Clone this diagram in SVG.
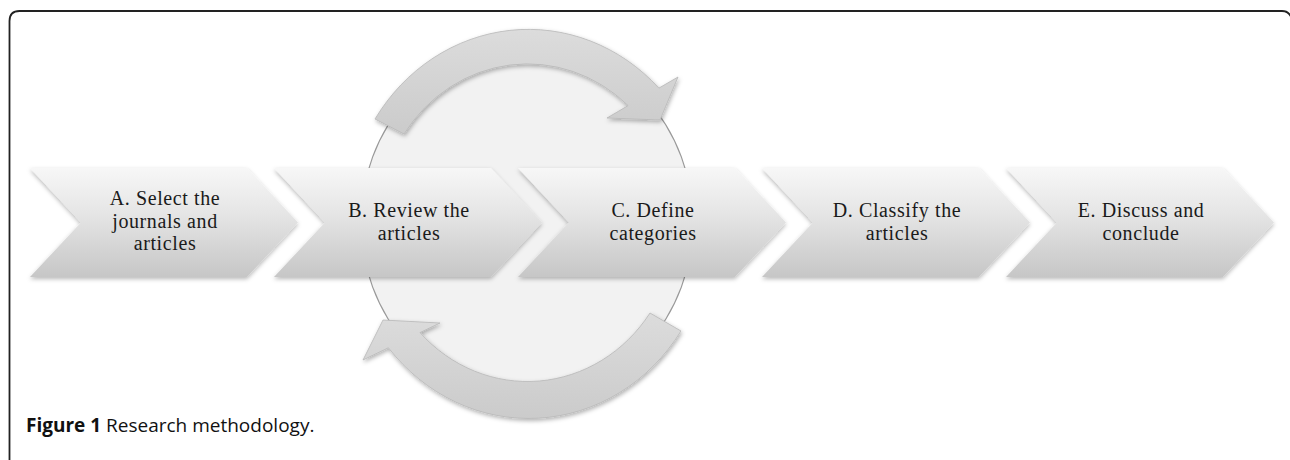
<svg xmlns="http://www.w3.org/2000/svg" width="1290" height="460" viewBox="0 0 1290 460">
  <defs>
    <linearGradient id="chev" x1="0" y1="0" x2="0" y2="1">
      <stop offset="0" stop-color="#f7f7f7"/>
      <stop offset="0.45" stop-color="#e4e4e4"/>
      <stop offset="1" stop-color="#c6c6c6"/>
    </linearGradient>
    <linearGradient id="arcg" x1="0" y1="0" x2="0" y2="1">
      <stop offset="0" stop-color="#dcdcdc"/>
      <stop offset="1" stop-color="#cbcbcb"/>
    </linearGradient>
    <filter id="sh" x="-10%" y="-10%" width="120%" height="130%">
      <feDropShadow dx="0" dy="2" stdDeviation="2" flood-color="#000" flood-opacity="0.28"/>
    </filter>
    <filter id="sha" x="-10%" y="-10%" width="120%" height="130%">
      <feDropShadow dx="1" dy="2" stdDeviation="2" flood-color="#000" flood-opacity="0.3"/>
    </filter>
  </defs>
  <style>
    .frame { fill: none; stroke: #222; stroke-width: 1.8; }
    .chev { fill: url(#chev); filter: url(#sh); }
    .arc { fill: url(#arcg); stroke: #b8b8b8; stroke-width: 0.8; filter: url(#sha); }
    .ring { fill: #f2f2f2; stroke: #999; stroke-width: 1.2; }
    .lbl { font-family: "Liberation Serif", "Times New Roman", serif; font-size: 20px; letter-spacing: 0.6px; fill: #1a1a1a; text-anchor: middle; }
    .cap { font-family: "Open Sans", "Liberation Sans", sans-serif; font-size: 19px; fill: #111; }
  </style>
  <rect width="1290" height="460" fill="#fff"/>
  <path class="frame" d="M 9.5 460 L 9.5 21 Q 9.5 11 19.5 11 L 1282 11 Q 1290 11 1292 20"/>

  <g id="cycle">
    <ellipse class="ring" cx="527" cy="222" rx="166" ry="177"/>
    <path class="arc" d="M 375 119 A 182 194 0 0 1 658.9 88.1 L 678 77 L 660 120 L 607 118 L 628.1 105.6 A 149 159 0 0 0 404 134 Z"/>
    <path class="arc" d="M 681 331 A 182 194 0 0 1 388.4 347.8 L 363 360 L 383 320 L 440 323 L 420 332.6 A 149 159 0 0 0 650 313 Z"/>
  </g>

  <g id="nodeA">
    <path class="chev" d="M 30 168 L 247 168 L 298 222.5 L 247 277 L 30 277 L 81 222.5 Z"/>
    <text class="lbl" x="165" y="205">A. Select the</text>
    <text class="lbl" x="165" y="227.5">journals and</text>
    <text class="lbl" x="165" y="250">articles</text>
  </g>
  <g id="nodeB">
    <path class="chev" d="M 274 168 L 491 168 L 542 222.5 L 491 277 L 274 277 L 325 222.5 Z"/>
    <text class="lbl" x="409" y="217">B. Review the</text>
    <text class="lbl" x="409" y="239.5">articles</text>
  </g>
  <g id="nodeC">
    <path class="chev" d="M 518 168 L 735 168 L 786 222.5 L 735 277 L 518 277 L 569 222.5 Z"/>
    <text class="lbl" x="653" y="217">C. Define</text>
    <text class="lbl" x="653" y="239.5">categories</text>
  </g>
  <g id="nodeD">
    <path class="chev" d="M 762 168 L 979 168 L 1030 222.5 L 979 277 L 762 277 L 813 222.5 Z"/>
    <text class="lbl" x="897" y="217">D. Classify the</text>
    <text class="lbl" x="897" y="239.5">articles</text>
  </g>
  <g id="nodeE">
    <path class="chev" d="M 1006 168 L 1223 168 L 1274 222.5 L 1223 277 L 1006 277 L 1057 222.5 Z"/>
    <text class="lbl" x="1141" y="217">E. Discuss and</text>
    <text class="lbl" x="1141" y="239.5">conclude</text>
  </g>

  <text class="cap" x="26" y="432"><tspan font-weight="bold">Figure 1</tspan> Research methodology.</text>
</svg>
